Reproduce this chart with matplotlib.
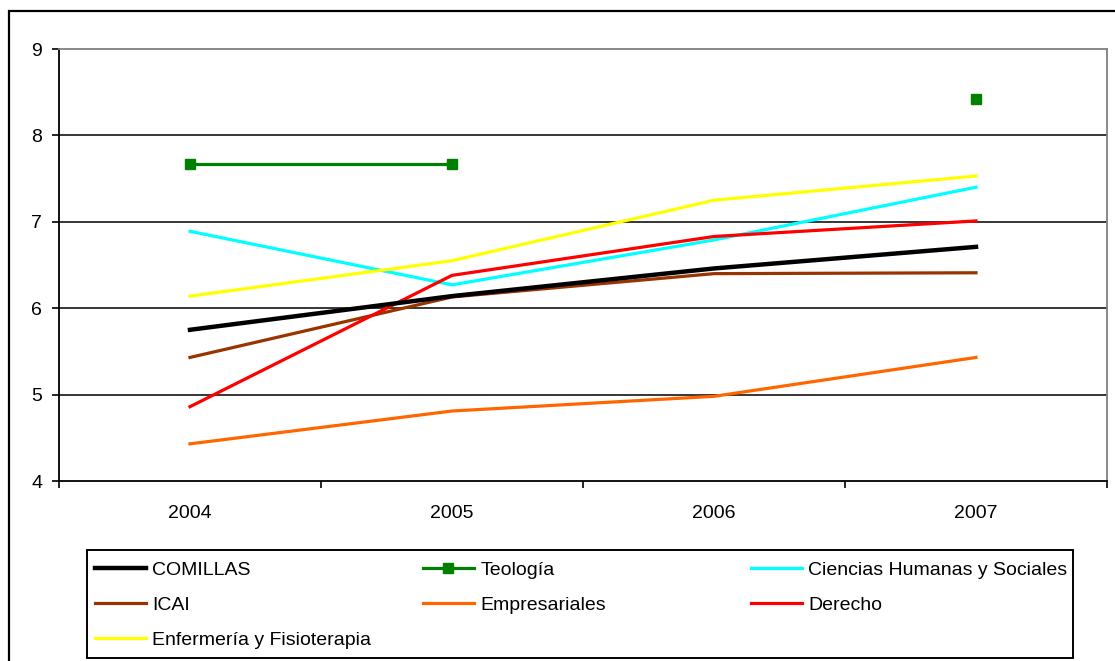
import matplotlib
matplotlib.use("Agg")
import matplotlib.pyplot as plt
from matplotlib.patches import Rectangle
import numpy as np

plt.rcParams['font.family'] = ['Liberation Sans', 'DejaVu Sans']

years = ["2004", "2005", "2006", "2007"]
comillas = [5.75, 6.14, 6.46, 6.71]
teologia = [7.67, 7.67, np.nan, 8.42]
ciencias = [6.89, 6.27, 6.79, 7.40]
icai = [5.43, 6.13, 6.40, 6.41]
empresariales = [4.43, 4.81, 4.98, 5.43]
derecho = [4.86, 6.38, 6.83, 7.01]
enfermeria = [6.14, 6.55, 7.25, 7.53]
yticks = [4, 5, 6, 7, 8, 9]

W, H = 1115, 661
fig = plt.figure(figsize=(W / 100, H / 100), dpi=100)
ax = fig.add_axes([59 / W, 1 - 481 / H, (1107 - 59) / W, (481 - 49) / H])

x = np.arange(len(years))
h_com, = ax.plot(x, comillas, color='black', lw=3.2, label='COMILLAS', zorder=5)
h_teo, = ax.plot(x, teologia, color='#008000', lw=2.3, marker='s', markersize=7,
                 label='Teología', zorder=6)
h_cie, = ax.plot(x, ciencias, color='#00FFFF', lw=2.3, label='Ciencias Humanas y Sociales', zorder=4)
h_ica, = ax.plot(x, icai, color='#993300', lw=2.3, label='ICAI', zorder=4)
h_emp, = ax.plot(x, empresariales, color='#FF6600', lw=2.3, label='Empresariales', zorder=4)
h_der, = ax.plot(x, derecho, color='#FF0000', lw=2.3, label='Derecho', zorder=4)
h_enf, = ax.plot(x, enfermeria, color='#FFFF00', lw=2.3, label='Enfermería y Fisioterapia', zorder=4)

ax.set_xlim(-0.5, len(years) - 0.5)
ax.set_ylim(4, 9)
ax.set_yticks(yticks)
ax.set_yticklabels([str(v) for v in yticks])
ax.set_xticks(np.arange(-0.5, len(years), 1.0))
ax.set_xticklabels([])
ax.set_xticks(x, minor=True)
ax.set_xticklabels(years, minor=True)
ax.tick_params(axis='x', which='major', direction='out', length=5, width=1.2, color='black')
ax.tick_params(axis='x', which='minor', length=0, pad=17, labelsize=14)
ax.tick_params(axis='y', direction='out', length=5, width=1.2, pad=7, labelsize=14)

for v in yticks[1:-1]:
    ax.axhline(v, color='black', lw=1.1, zorder=1)
for side in ['top', 'right']:
    ax.spines[side].set_color('#808080')
    ax.spines[side].set_linewidth(1.3)
for side in ['left', 'bottom']:
    ax.spines[side].set_color('black')
    ax.spines[side].set_linewidth(1.3)

# outer chart border
fig.patches.append(Rectangle((9 / W, -0.1), 1.2, (661 - 11) / H + 0.1, transform=fig.transFigure,
                             fill=False, edgecolor='black', lw=1.6))
# legend box
fig.patches.append(Rectangle((87 / W, 1 - 658 / H), (1073 - 87) / W, (658 - 550) / H,
                             transform=fig.transFigure, fill=False, edgecolor='black', lw=1.4))

cols = [([h_com, h_ica, h_enf], 95), ([h_teo, h_emp], 423), ([h_cie, h_der], 751)]
for handles, x0 in cols:
    leg = fig.legend(handles=handles, loc='upper left', bbox_to_anchor=(x0 / W, 1 - 561 / H),
                     frameon=False, fontsize=14, borderpad=0, borderaxespad=0,
                     handlelength=2.6, handletextpad=0.35, labelspacing=0.9)

fig.savefig('out.png', dpi=100)
